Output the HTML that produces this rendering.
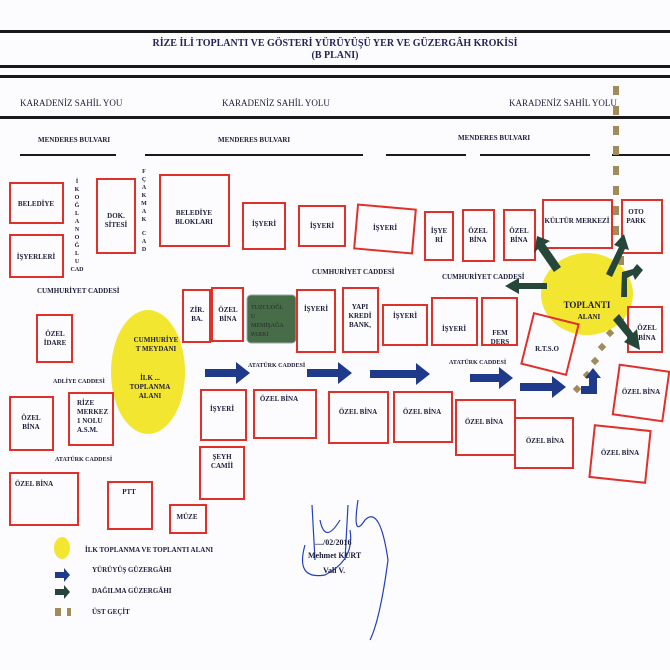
<!DOCTYPE html>
<html><head><meta charset="utf-8"><style>
body{margin:0;background:#fff}
svg{display:block}
text{font-family:"Liberation Serif",serif;font-weight:bold;fill:#1d1d3a}
.b{fill:none;stroke:#e0302a;stroke-width:2}
.s{font-size:7px}
.m{font-size:8px}
</style></head><body>
<svg width="670" height="670" viewBox="0 0 670 670" xmlns="http://www.w3.org/2000/svg">
<rect width="670" height="670" fill="#fcfcfe"/>
<g fill="#1a1a1a">
<rect x="0" y="30" width="670" height="3"/>
<rect x="0" y="65" width="670" height="3"/>
<rect x="0" y="75" width="670" height="3"/>
<rect x="0" y="116" width="670" height="3"/>
<rect x="20" y="154" width="96" height="2"/>
<rect x="145" y="154" width="218" height="2"/>
<rect x="386" y="154" width="80" height="2"/>
<rect x="480" y="154" width="110" height="2"/>
<rect x="612" y="154" width="58" height="2"/>
</g>
<text x="335" y="46" text-anchor="middle" font-size="10" style="fill:#24245a">RİZE İLİ TOPLANTI VE GÖSTERİ YÜRÜYÜŞÜ YER VE GÜZERGÂH KROKİSİ</text>
<text x="335" y="58" text-anchor="middle" font-size="10" style="fill:#24245a">(B PLANI)</text>
<g font-size="9" style="font-weight:normal">
<text x="20" y="106" style="font-weight:normal">KARADENİZ SAHİL YOU</text>
<text x="222" y="106" style="font-weight:normal">KARADENİZ SAHİL YOLU</text>
<text x="509" y="106" style="font-weight:normal">KARADENİZ SAHİL YOLU</text>
</g>
<text x="38" y="142" class="s">MENDERES BULVARI</text>
<text x="218" y="142" class="s">MENDERES BULVARI</text>
<text x="458" y="140" class="s">MENDERES BULVARI</text>

<g fill="#a08c5a">
<rect x="613" y="86" width="6" height="9"/><rect x="613" y="106" width="6" height="9"/>
<rect x="613" y="126" width="6" height="9"/><rect x="613" y="146" width="6" height="9"/>
<rect x="613" y="166" width="6" height="9"/><rect x="613" y="186" width="6" height="9"/>
<rect x="613" y="206" width="6" height="9"/><rect x="613" y="226" width="6" height="9"/>
<rect x="618" y="256" width="6" height="9"/><rect x="618" y="276" width="6" height="9"/>
<rect x="618" y="296" width="6" height="9"/><rect x="618" y="311" width="6" height="9"/>
<rect x="607" y="330" width="6" height="6" transform="rotate(45 610 333)"/>
<rect x="599" y="344" width="6" height="6" transform="rotate(45 602 347)"/>
<rect x="592" y="358" width="6" height="6" transform="rotate(45 595 361)"/>
<rect x="584" y="372" width="6" height="6" transform="rotate(45 587 375)"/>
<rect x="574" y="386" width="6" height="6" transform="rotate(45 577 389)"/>
</g>

<ellipse cx="148" cy="372" rx="37" ry="62" fill="#f3e630"/>
<ellipse cx="587" cy="294" rx="46" ry="41" fill="#f3e630"/>

<rect class="b" x="10" y="183" width="53" height="40"/>
<rect class="b" x="10" y="235" width="53" height="42"/>
<rect class="b" x="97" y="179" width="38" height="74"/>
<rect class="b" x="160" y="175" width="69" height="71"/>
<rect class="b" x="243" y="203" width="42" height="46"/>
<rect class="b" x="299" y="206" width="46" height="40"/>
<rect class="b" x="356" y="207" width="58" height="44" transform="rotate(5 385 229)"/>
<rect class="b" x="425" y="212" width="28" height="48"/>
<rect class="b" x="463" y="210" width="31" height="51"/>
<rect class="b" x="504" y="210" width="31" height="50"/>
<rect class="b" x="543" y="200" width="69" height="48"/>
<rect class="b" x="622" y="200" width="40" height="53"/>
<rect class="b" x="37" y="315" width="35" height="47"/>
<rect class="b" x="183" y="290" width="27" height="52"/>
<rect class="b" x="212" y="288" width="31" height="53"/>
<rect x="247" y="295" width="49" height="48" rx="4" fill="#466c48" stroke="#9aa" stroke-width="1"/>
<rect class="b" x="297" y="290" width="38" height="62"/>
<rect class="b" x="343" y="288" width="35" height="64"/>
<rect class="b" x="383" y="305" width="44" height="40"/>
<rect class="b" x="432" y="298" width="45" height="47"/>
<rect class="b" x="482" y="298" width="35" height="47"/>
<rect class="b" x="527" y="318" width="46" height="52" transform="rotate(14 550 344)"/>
<rect class="b" x="628" y="307" width="34" height="45"/>
<rect class="b" x="10" y="397" width="43" height="53"/>
<rect class="b" x="69" y="393" width="44" height="52"/>
<rect class="b" x="201" y="390" width="45" height="50"/>
<rect class="b" x="254" y="390" width="62" height="48"/>
<rect class="b" x="329" y="392" width="59" height="51"/>
<rect class="b" x="394" y="392" width="58" height="50"/>
<rect class="b" x="456" y="400" width="59" height="55"/>
<rect class="b" x="515" y="418" width="58" height="50"/>
<rect class="b" x="616" y="368" width="50" height="50" transform="rotate(8 641 393)"/>
<rect class="b" x="592" y="428" width="56" height="52" transform="rotate(6 620 454)"/>
<rect class="b" x="200" y="447" width="44" height="52"/>
<rect class="b" x="10" y="473" width="68" height="52"/>
<rect class="b" x="108" y="482" width="44" height="47"/>
<rect class="b" x="170" y="505" width="36" height="28"/>

<g class="s" text-anchor="middle">
<text x="36" y="206" class="s">BELEDİYE</text>
<text x="36" y="259" class="s">İŞYERLERİ</text>
<text x="116" y="218" class="s">DOK.</text><text x="116" y="227" class="s">SİTESİ</text>
<text x="194" y="215" class="s">BELEDİYE</text><text x="194" y="224" class="s">BLOKLARI</text>
<text x="264" y="226" class="s">İŞYERİ</text>
<text x="322" y="228" class="s">İŞYERİ</text>
<text x="385" y="230" class="s">İŞYERİ</text>
<text x="439" y="233" class="s">İŞYE</text><text x="439" y="242" class="s">Rİ</text>
<text x="478" y="233" class="s">ÖZEL</text><text x="478" y="242" class="s">BİNA</text>
<text x="519" y="233" class="s">ÖZEL</text><text x="519" y="242" class="s">BİNA</text>
<text x="577" y="223" class="s">KÜLTÜR MERKEZİ</text>
<text x="636" y="214" class="s">OTO</text><text x="636" y="223" class="s">PARK</text>
<text x="55" y="336" class="s">ÖZEL</text><text x="55" y="345" class="s">İDARE</text>
<text x="197" y="312" class="s">ZİR.</text><text x="197" y="321" class="s">BA.</text>
<text x="228" y="312" class="s">ÖZEL</text><text x="228" y="321" class="s">BİNA</text>
<text x="316" y="311" class="s">İŞYERİ</text>
<text x="360" y="309" class="s">YAPI</text><text x="360" y="318" class="s">KREDİ</text><text x="360" y="327" class="s">BANK,</text>
<text x="405" y="318" class="s">İŞYERİ</text>
<text x="454" y="331" class="s">İŞYERİ</text>
<text x="500" y="335" class="s">FEM</text><text x="500" y="344" class="s">DERS</text>
<text x="547" y="351" class="s">R.T.S.O</text>
<text x="647" y="330" class="s">ÖZEL</text><text x="647" y="340" class="s">BİNA</text>
<text x="31" y="420" class="s">ÖZEL</text><text x="31" y="429" class="s">BİNA</text>
<text x="156" y="342" class="s">CUMHURİYE</text><text x="156" y="351" class="s">T MEYDANI</text>
<text x="150" y="380" class="s">İLK ...</text><text x="150" y="389" class="s">TOPLANMA</text><text x="150" y="398" class="s">ALANI</text>
<text x="587" y="308" font-size="9">TOPLANTI</text><text x="589" y="319" class="s">ALANI</text>
<text x="222" y="411" class="s">İŞYERİ</text>
<text x="279" y="401" class="s">ÖZEL BİNA</text>
<text x="358" y="414" class="s">ÖZEL BİNA</text>
<text x="422" y="414" class="s">ÖZEL BİNA</text>
<text x="484" y="424" class="s">ÖZEL BİNA</text>
<text x="545" y="443" class="s">ÖZEL BİNA</text>
<text x="641" y="394" class="s">ÖZEL BİNA</text>
<text x="620" y="455" class="s">ÖZEL BİNA</text>
<text x="222" y="459" class="s">ŞEYH</text><text x="222" y="468" class="s">CAMİİ</text>
<text x="34" y="486" class="s">ÖZEL BİNA</text>
<text x="129" y="494" class="s">PTT</text>
<text x="187" y="519" class="s">MÜZE</text>
</g>
<g style="font-size:7px" text-anchor="start">
<text x="77" y="405" class="s">RİZE</text><text x="77" y="414" class="s">MERKEZ</text><text x="77" y="423" class="s">1 NOLU</text><text x="77" y="432" class="s">A.S.M.</text>
<text x="251" y="309" style="fill:#2a2a2a;font-weight:normal;font-size:6px">TUZCUOĞL</text>
<text x="251" y="318" style="fill:#2a2a2a;font-weight:normal;font-size:6px">U</text>
<text x="251" y="327" style="fill:#2a2a2a;font-weight:normal;font-size:6px">MEMİŞAĞA</text>
<text x="251" y="336" style="fill:#2a2a2a;font-weight:normal;font-size:6px">PARKI</text>
</g>
<g class="s" text-anchor="middle" font-size="6">
<text x="77" y="183" font-size="6">İ</text><text x="77" y="191" font-size="6">K</text><text x="77" y="199" font-size="6">O</text><text x="77" y="207" font-size="6">Ğ</text><text x="77" y="215" font-size="6">L</text><text x="77" y="223" font-size="6">A</text><text x="77" y="231" font-size="6">N</text><text x="77" y="239" font-size="6">O</text><text x="77" y="247" font-size="6">Ğ</text><text x="77" y="255" font-size="6">L</text><text x="77" y="263" font-size="6">U</text><text x="77" y="271" font-size="6">CAD</text>
<text x="144" y="173" font-size="6">F</text><text x="144" y="181" font-size="6">Ç</text><text x="144" y="189" font-size="6">A</text><text x="144" y="197" font-size="6">K</text><text x="144" y="205" font-size="6">M</text><text x="144" y="213" font-size="6">A</text><text x="144" y="221" font-size="6">K</text><text x="144" y="235" font-size="6">C</text><text x="144" y="243" font-size="6">A</text><text x="144" y="251" font-size="6">D</text>
</g>
<text x="37" y="293" class="s">CUMHURİYET CADDESİ</text>
<text x="312" y="274" class="s">CUMHURİYET CADDESİ</text>
<text x="442" y="279" class="s">CUMHURİYET CADDESİ</text>
<text x="53" y="383" font-size="6">ADLİYE CADDESİ</text>
<text x="55" y="461" font-size="6">ATATÜRK CADDESİ</text>
<text x="248" y="367" font-size="6">ATATÜRK CADDESİ</text>
<text x="449" y="364" font-size="6">ATATÜRK CADDESİ</text>

<g fill="#1f3a8a">
<polygon points="205,369 236,369 236,362 250,373 236,384 236,377 205,377"/>
<polygon points="307,369 338,369 338,362 352,373 338,384 338,377 307,377"/>
<polygon points="370,370 416,370 416,363 430,374 416,385 416,378 370,378"/>
<polygon points="470,374 499,374 499,367 513,378 499,389 499,382 470,382"/>
<polygon points="520,383 552,383 552,376 566,387 552,398 552,391 520,391"/>
<polygon points="581,386 589,386 589,378 585,378 593,368 601,378 597,378 597,394 581,394"/>
</g>
<g fill="#27463a">
<polygon points="554,272 538,249 534,253 537,236 550,241 545,244 561,267"/>
<polygon points="606,274 619,247 614,245 624,234 629,250 625,249 612,277"/>
<polygon points="547,283 519,283 519,278 505,286 519,294 519,289 547,289"/>
<polygon points="627,297 627,278 633,275 635,280 643,270 637,264 633,269 622,272 621,297"/>
<polygon points="613,320 619,314 633,333 637,329 640,350 624,342 628,338"/>
</g>

<ellipse cx="62" cy="548" rx="8" ry="11" fill="#f3e630"/>
<text x="85" y="552" class="s">İLK TOPLANMA VE TOPLANTI ALANI</text>
<polygon points="55,572 64,572 64,568 70,575 64,582 64,578 55,578" fill="#1f3a8a"/>
<text x="92" y="572" class="s">YÜRÜYÜŞ GÜZERGÂHI</text>
<polygon points="55,589 64,589 64,585 70,592 64,599 64,595 55,595" fill="#27463a"/>
<text x="92" y="593" class="s">DAĞILMA GÜZERGÂHI</text>
<rect x="55" y="608" width="6" height="8" fill="#a08c5a"/><rect x="67" y="608" width="4" height="8" fill="#a08c5a"/>
<text x="92" y="614" class="s">ÜST GEÇİT</text>

<path d="M312,505 L315,560 M320,520 Q325,545 340,520 M348,505 L345,560 M358,500 Q352,540 365,520 Q380,505 388,560 Q380,620 370,640 M305,545 Q295,580 325,575 Q355,560 350,530" fill="none" stroke="#2340c0" stroke-width="1.2"/>
<text x="315" y="545" class="m">..../02/2016</text>
<text x="308" y="558" class="m">Mehmet KURT</text>
<text x="323" y="573" class="m">Vali V.</text>
</svg>
</body></html>
